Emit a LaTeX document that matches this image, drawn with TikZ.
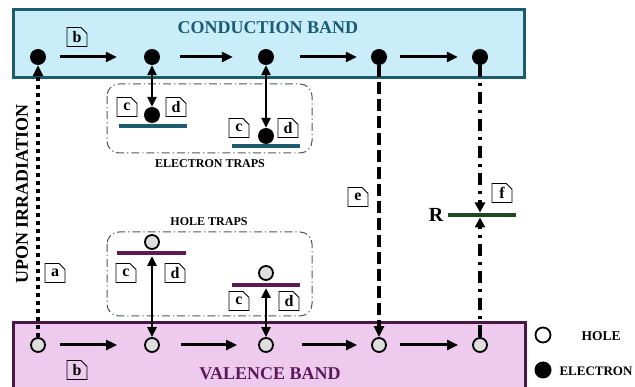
\documentclass[tikz,border=0pt]{standalone}
\usepackage{fontspec}
\setmainfont{Liberation Serif}
\usetikzlibrary{arrows.meta,shapes.misc}
\definecolor{cbfill}{HTML}{C9EEF9}
\definecolor{cbdraw}{HTML}{1D5B6E}
\definecolor{cbtext}{HTML}{1A5A72}
\definecolor{vbfill}{HTML}{EECBEE}
\definecolor{vbdraw}{HTML}{4A1848}
\definecolor{vbtext}{HTML}{5A1A5A}
\definecolor{htline}{HTML}{5C1A55}
\definecolor{rline}{HTML}{1E4A22}
\definecolor{holegray}{HTML}{DEDEDE}
\definecolor{trapgray}{HTML}{50585C}
\begin{document}
\begin{tikzpicture}[x=1pt,y=-1pt,
  electron/.style={circle,fill=black,minimum size=16pt,inner sep=0pt},
  hole/.style={circle,draw=black,line width=1.8pt,fill=holegray,minimum size=14pt,inner sep=0pt},
  lbl/.style={chamfered rectangle,chamfered rectangle corners=north east,
    chamfered rectangle xsep=3pt,chamfered rectangle ysep=3pt,draw=black,line width=0.9pt,
    minimum width=20pt,minimum height=19pt,inner sep=0pt,font=\bfseries\fontsize{16}{16}\selectfont},
  harrow/.style={line width=3pt,-{Triangle[length=11pt,width=10pt]}},
  darrow/.style={line width=2.8pt,{Triangle[length=10pt,width=9pt]}-{Triangle[length=10pt,width=9pt]}},
  trapbox/.style={draw=trapgray,line width=1pt,rounded corners=12pt,dash pattern=on 8pt off 3pt on 1.2pt off 3pt},
  bigtext/.style={font=\bfseries\fontsize{18}{18}\selectfont},
  smalltext/.style={font=\bfseries\fontsize{12}{12}\selectfont},
]
\useasboundingbox (0,0) rectangle (635,387);
\clip (0,0) rectangle (635,387);
% bands
\draw[line width=3pt,draw=cbdraw,fill=cbfill] (13,10) rectangle (524,78);
\draw[line width=3pt,draw=vbdraw,fill=vbfill] (13,323) rectangle (525,395);
\node[bigtext,text=cbtext] (cbt) at (268,28) {CONDUCTION BAND};
\node[bigtext,text=vbtext] (vbt) at (270,374) {VALENCE BAND};
% trap boxes
\draw[trapbox] (107,84) rectangle (312,153);
\draw[trapbox] (107,232) rectangle (312,316);
\node[smalltext] (ett) at (210,164) {ELECTRON TRAPS};
\node[smalltext] (htt) at (209,222) {HOLE TRAPS};
% electrons in CB
\node[electron] (ce1) at (38,57) {};
\node[electron] (ce2) at (152,57) {};
\node[electron] (ce3) at (266,57) {};
\node[electron] (ce4) at (379,57) {};
\node[electron] (ce5) at (480,57) {};
% holes in VB
\node[hole] (vh1) at (38,345) {};
\node[hole] (vh2) at (152,345) {};
\node[hole] (vh3) at (266,345) {};
\node[hole] (vh4) at (379,345) {};
\node[hole] (vh5) at (480,345) {};
% horizontal arrows
\draw[harrow,shorten <=14pt,shorten >=27pt] (ce1) -- (ce2);
\draw[harrow,shorten <=20pt,shorten >=25pt] (ce2) -- (ce3);
\draw[harrow,shorten <=26pt,shorten >=14pt] (ce3) -- (ce4);
\draw[harrow,shorten <=13pt,shorten >=14pt] (ce4) -- (ce5);
\draw[harrow,shorten <=14pt,shorten >=27pt] (vh1) -- (vh2);
\draw[harrow,shorten <=21pt,shorten >=21pt] (vh2) -- (vh3);
\draw[harrow,shorten <=28pt,shorten >=14pt] (vh3) -- (vh4);
\draw[harrow,shorten <=13pt,shorten >=14pt] (vh4) -- (vh5);
\node[lbl] (lb1) at (77,37) {b};
\node[lbl] (lb2) at (77,370) {b};
% electron traps
\draw[line width=4pt,cbdraw] (119,126) -- (187,126);
\draw[line width=4pt,cbdraw] (232,146) -- (300,146);
\node[electron] (et1) at (152,115) {};
\node[electron] (et2) at (266,136) {};
\draw[darrow] (ce2) -- (et1);
\draw[darrow] (ce3) -- (et2);
\node[lbl] (c1) at (127,107) {c};
\node[lbl] (d1) at (176,107) {d};
\node[lbl] (c2) at (239,128) {c};
\node[lbl] (d2) at (288,128) {d};
% hole traps
\draw[line width=4pt,htline] (117,253) -- (186,253);
\draw[line width=4pt,htline] (232,285) -- (300,285);
\node[hole] (ht1) at (152,242) {};
\node[hole] (ht2) at (266,273) {};
\coordinate (htl1) at (152,256);
\coordinate (htl2) at (266,288);
\draw[darrow] (htl1) -- (vh2);
\draw[darrow] (htl2) -- (vh3);
\node[lbl] (c3) at (126,273) {c};
\node[lbl] (d3) at (175,273) {d};
\node[lbl] (c4) at (239,301) {c};
\node[lbl] (d4) at (289,301) {d};
% irradiation (a)
\draw[line width=4.5pt,dash pattern=on 4pt off 4pt,-{Triangle[length=11pt,width=10pt]}] (vh1) -- (ce1);
\node[lbl] (la) at (55,273) {a};
\node[bigtext,rotate=90] (upon) at (22,194) {UPON IRRADIATION};
% (e)
\draw[line width=4.5pt,dash pattern=on 12pt off 5pt,-{Triangle[length=11pt,width=10pt]}] (ce4) -- (vh4);
\node[lbl] (le) at (358,197) {e};
% (f) recombination
\draw[line width=4pt,rline] (448,215) -- (516,215);
\node[font=\bfseries\fontsize{20}{20}\selectfont] (rt) at (436,215) {R};
\coordinate (rtop) at (480,212.5);
\coordinate (rbot) at (480,217.5);
\draw[line width=3.2pt,dash pattern=on 12pt off 6pt on 3pt off 6pt,-{Triangle[length=10pt,width=10pt]}] (ce5) -- (rtop);
\draw[line width=3.2pt,dash pattern=on 12pt off 6pt on 3pt off 6pt,-{Triangle[length=10pt,width=10pt]}] (vh5) -- (rbot);
\node[lbl] (lf) at (502,193) {f};
% legend
\node[hole,fill=white,minimum size=15pt] (lgh) at (543,335) {};
\node[electron,minimum size=17pt] (lge) at (543,370) {};
\node[font=\bfseries\fontsize{13.5}{13.5}\selectfont,anchor=west] (lght) at (578,336) {HOLE};
\node[font=\bfseries\fontsize{13}{13}\selectfont,anchor=west] (lget) at (556,371) {ELECTRON};
\end{tikzpicture}
\end{document}
